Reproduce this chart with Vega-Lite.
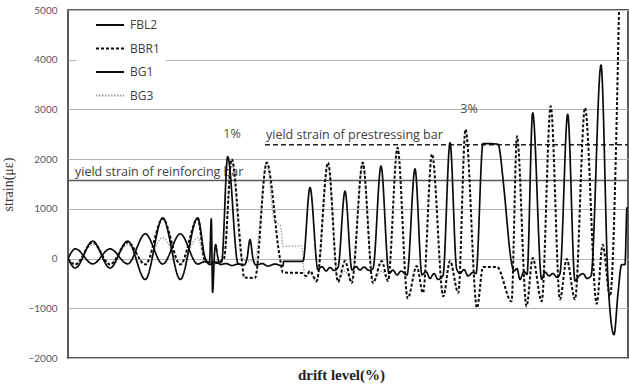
{
  "$schema": "https://vega.github.io/schema/vega-lite/v6.json",
  "width": 560,
  "height": 348,
  "autosize": {"type": "none"},
  "padding": {"left": 68, "top": 10, "right": 1, "bottom": 27},
  "background": "white",
  "config": {
    "view": {"stroke": "#5a5a5a", "strokeWidth": 2},
    "legend": {
      "orient": "none", "legendX": 8, "legendY": 3, "fillColor": "white", "padding": 6,
      "symbolType": "stroke", "symbolSize": 784, "symbolStrokeWidth": 2,
      "labelFont": "Open Sans", "labelFontSize": 12, "labelColor": "#404040",
      "clipHeight": 12, "rowPadding": 11.5, "symbolOffset": 13, "labelOffset": 5
    }
  },
  "datasets": {
    "series": [
      {"s":"FBL2","t":0,"v":0},{"s":"FBL2","t":7.3,"v":195},{"s":"FBL2","t":24.7,"v":-107},{"s":"FBL2","t":42,"v":195},{"s":"FBL2","t":59.7,"v":-107},
      {"s":"FBL2","t":77.3,"v":497},{"s":"FBL2","t":94.7,"v":-110},{"s":"FBL2","t":112.3,"v":497},{"s":"FBL2","t":129.7,"v":-110},{"s":"FBL2","t":137,"v":-60},
      {"s":"FBL2","t":141.5,"v":-80},{"s":"FBL2","t":143.3,"v":800},{"s":"FBL2","t":144.6,"v":-680},{"s":"FBL2","t":146.5,"v":100},{"s":"FBL2","t":147.7,"v":280},
      {"s":"FBL2","t":149.5,"v":60},{"s":"FBL2","t":152,"v":-120},{"s":"FBL2","t":158,"v":-100},{"s":"FBL2","t":164,"v":-140},{"s":"FBL2","t":170,"v":-110},
      {"s":"FBL2","t":176,"v":-130},{"s":"FBL2","t":179,"v":0},{"s":"FBL2","t":182,"v":380},{"s":"FBL2","t":185,"v":0},{"s":"FBL2","t":188,"v":-130},
      {"s":"FBL2","t":194,"v":-100},{"s":"FBL2","t":200,"v":-150},{"s":"FBL2","t":207,"v":-110},{"s":"FBL2","t":215,"v":-150},{"s":"FBL2","t":215.6,"v":-55},
      {"s":"FBL2","t":235,"v":-55},{"s":"FBL2","t":242,"v":1430},{"s":"FBL2","t":250,"v":-220},{"s":"FBL2","t":254,"v":-160},{"s":"FBL2","t":258,"v":-250},
      {"s":"FBL2","t":262,"v":-180},{"s":"FBL2","t":266,"v":-240},{"s":"FBL2","t":270,"v":-180},{"s":"FBL2","t":277,"v":1355},{"s":"FBL2","t":284,"v":-230},
      {"s":"FBL2","t":288,"v":-160},{"s":"FBL2","t":292,"v":-230},{"s":"FBL2","t":296,"v":-170},{"s":"FBL2","t":301,"v":-240},{"s":"FBL2","t":305,"v":-200},
      {"s":"FBL2","t":313,"v":1860},{"s":"FBL2","t":321,"v":-300},{"s":"FBL2","t":325,"v":-230},{"s":"FBL2","t":329,"v":-330},{"s":"FBL2","t":333,"v":-250},
      {"s":"FBL2","t":339,"v":-330},{"s":"FBL2","t":347,"v":1805},{"s":"FBL2","t":354,"v":-330},{"s":"FBL2","t":358,"v":-260},{"s":"FBL2","t":362,"v":-400},
      {"s":"FBL2","t":366,"v":-300},{"s":"FBL2","t":370,"v":-420},{"s":"FBL2","t":375,"v":-340},{"s":"FBL2","t":382,"v":2330},{"s":"FBL2","t":388.7,"v":-210},
      {"s":"FBL2","t":392,"v":-300},{"s":"FBL2","t":396,"v":-220},{"s":"FBL2","t":400,"v":-350},{"s":"FBL2","t":405,"v":-280},{"s":"FBL2","t":408,"v":-300},
      {"s":"FBL2","t":415,"v":2315},{"s":"FBL2","t":430,"v":2300},{"s":"FBL2","t":435,"v":1600},{"s":"FBL2","t":437,"v":1190},{"s":"FBL2","t":443,"v":-20},
      {"s":"FBL2","t":446,"v":-250},{"s":"FBL2","t":449,"v":-200},{"s":"FBL2","t":452,"v":-420},{"s":"FBL2","t":456,"v":-260},{"s":"FBL2","t":459,"v":-320},
      {"s":"FBL2","t":464.7,"v":2930},{"s":"FBL2","t":473.7,"v":-420},{"s":"FBL2","t":477,"v":-270},{"s":"FBL2","t":481,"v":-350},{"s":"FBL2","t":485,"v":-300},
      {"s":"FBL2","t":489,"v":-380},{"s":"FBL2","t":492,"v":-300},{"s":"FBL2","t":499.7,"v":2900},{"s":"FBL2","t":507,"v":-450},{"s":"FBL2","t":511,"v":-350},
      {"s":"FBL2","t":515,"v":-300},{"s":"FBL2","t":519,"v":-400},{"s":"FBL2","t":523,"v":-350},{"s":"FBL2","t":533,"v":3890},{"s":"FBL2","t":540,"v":-450},
      {"s":"FBL2","t":546,"v":-1530},{"s":"FBL2","t":550,"v":-700},{"s":"FBL2","t":553.7,"v":-120},{"s":"FBL2","t":557,"v":-120},{"s":"FBL2","t":559,"v":1020},
      {"s":"FBL2","t":560,"v":1000},

      {"s":"BG1","t":0,"v":0},{"s":"BG1","t":7.3,"v":-190},{"s":"BG1","t":24.7,"v":350},{"s":"BG1","t":42,"v":-190},{"s":"BG1","t":59.7,"v":350},
      {"s":"BG1","t":77.3,"v":-420},{"s":"BG1","t":94.7,"v":820},{"s":"BG1","t":112.3,"v":-420},{"s":"BG1","t":129.7,"v":820},{"s":"BG1","t":137,"v":20},
      {"s":"BG1","t":142,"v":-120},{"s":"BG1","t":146,"v":-60},{"s":"BG1","t":150,"v":-90},{"s":"BG1","t":153.7,"v":-60},{"s":"BG1","t":159.7,"v":2050},
      {"s":"BG1","t":170,"v":-100},{"s":"BG1","t":173,"v":-120},

      {"s":"BBR1","t":0,"v":0},{"s":"BBR1","t":7.3,"v":-120},{"s":"BBR1","t":24.7,"v":330},{"s":"BBR1","t":42,"v":-120},{"s":"BBR1","t":59.7,"v":330},
      {"s":"BBR1","t":77.3,"v":-120},{"s":"BBR1","t":94.7,"v":800},{"s":"BBR1","t":112.3,"v":-120},{"s":"BBR1","t":129.7,"v":800},{"s":"BBR1","t":137,"v":-50},
      {"s":"BBR1","t":144,"v":-100},{"s":"BBR1","t":150,"v":-80},{"s":"BBR1","t":156,"v":0},{"s":"BBR1","t":163.7,"v":2000},{"s":"BBR1","t":173.7,"v":0},
      {"s":"BBR1","t":176,"v":-380},{"s":"BBR1","t":187,"v":-390},{"s":"BBR1","t":198.7,"v":1930},{"s":"BBR1","t":212,"v":0},{"s":"BBR1","t":215,"v":-280},
      {"s":"BBR1","t":234,"v":-290},{"s":"BBR1","t":238,"v":-350},{"s":"BBR1","t":242,"v":-250},{"s":"BBR1","t":248.7,"v":-450},{"s":"BBR1","t":260,"v":1930},
      {"s":"BBR1","t":270,"v":-470},{"s":"BBR1","t":277,"v":-50},{"s":"BBR1","t":283.7,"v":-490},{"s":"BBR1","t":294.7,"v":1930},{"s":"BBR1","t":305,"v":-490},
      {"s":"BBR1","t":313.7,"v":-50},{"s":"BBR1","t":320,"v":-450},{"s":"BBR1","t":329.5,"v":2230},{"s":"BBR1","t":339.7,"v":-800},{"s":"BBR1","t":348.7,"v":-150},
      {"s":"BBR1","t":355,"v":-690},{"s":"BBR1","t":364,"v":2100},{"s":"BBR1","t":375.3,"v":-760},{"s":"BBR1","t":382,"v":-50},{"s":"BBR1","t":390.3,"v":-690},
      {"s":"BBR1","t":397.5,"v":2600},{"s":"BBR1","t":409,"v":-990},{"s":"BBR1","t":415,"v":-170},{"s":"BBR1","t":429,"v":-170},{"s":"BBR1","t":443.5,"v":-860},
      {"s":"BBR1","t":449,"v":2460},{"s":"BBR1","t":458.5,"v":-960},{"s":"BBR1","t":464.7,"v":10},{"s":"BBR1","t":473.7,"v":-860},{"s":"BBR1","t":482.7,"v":3065},
      {"s":"BBR1","t":492,"v":-820},{"s":"BBR1","t":498.7,"v":-10},{"s":"BBR1","t":507,"v":-820},{"s":"BBR1","t":517,"v":3030},{"s":"BBR1","t":528.7,"v":-910},
      {"s":"BBR1","t":534.7,"v":280},{"s":"BBR1","t":542,"v":-760},{"s":"BBR1","t":551,"v":5000},

      {"s":"BG3","t":0,"v":0},{"s":"BG3","t":7.3,"v":-100},{"s":"BG3","t":24.7,"v":280},{"s":"BG3","t":42,"v":-100},{"s":"BG3","t":59.7,"v":280},
      {"s":"BG3","t":77.3,"v":-100},{"s":"BG3","t":94.7,"v":420},{"s":"BG3","t":112.3,"v":-100},{"s":"BG3","t":129.7,"v":420},{"s":"BG3","t":137,"v":-30},
      {"s":"BG3","t":144,"v":-60},{"s":"BG3","t":156,"v":0},{"s":"BG3","t":163.7,"v":1950},{"s":"BG3","t":173.7,"v":0},{"s":"BG3","t":182,"v":-50},
      {"s":"BG3","t":187,"v":-20},{"s":"BG3","t":198.7,"v":1930},{"s":"BG3","t":206,"v":800},{"s":"BG3","t":208.7,"v":720},{"s":"BG3","t":212.5,"v":660},
      {"s":"BG3","t":215,"v":250},{"s":"BG3","t":233.7,"v":250},{"s":"BG3","t":237,"v":-400},{"s":"BG3","t":242,"v":-300},{"s":"BG3","t":248.7,"v":-480},
      {"s":"BG3","t":260,"v":1900},{"s":"BG3","t":270,"v":-420},{"s":"BG3","t":277,"v":-250},{"s":"BG3","t":283.7,"v":-450},{"s":"BG3","t":294.7,"v":1900},
      {"s":"BG3","t":305,"v":-450},{"s":"BG3","t":313.7,"v":-250},{"s":"BG3","t":317,"v":-350}
    ],
    "reinf": [{"t": 0, "t2": 560, "v": 1570}],
    "prest": [{"t": 197, "t2": 560, "v": 2290}],
    "notesL": [
      {"t": 7, "v": 1750, "label": "yield strain of reinforcing bar"},
      {"t": 198, "v": 2495, "label": "yield strain of prestressing bar"}
    ],
    "notesC": [
      {"t": 164, "v": 2515, "label": "1%"},
      {"t": 401, "v": 3000, "label": "3%"}
    ]
  },
  "encoding": {
    "x": {
      "field": "t", "type": "quantitative",
      "scale": {"domain": [0, 560], "nice": false, "zero": false},
      "axis": {
        "title": "drift level(%)", "labels": false, "ticks": false, "grid": false, "domain": false,
        "titleFont": "Liberation Serif", "titleFontSize": 15, "titleFontWeight": "bold", "titleColor": "#222",
        "titlePadding": 9, "titleX": 273, "titleAlign": "center"
      }
    },
    "y": {
      "field": "v", "type": "quantitative",
      "scale": {"domain": [-2000, 5000], "nice": false, "zero": false},
      "axis": {
        "title": "strain(με)", "values": [-2000, -1000, 0, 1000, 2000, 3000, 4000, 5000], "format": "d",
        "grid": true, "gridColor": "#b4b4b4", "gridWidth": 1, "ticks": false, "domain": false,
        "labelFont": "Lato", "labelFontSize": 10, "labelColor": "#595959", "labelPadding": 11,
        "titleFont": "Liberation Serif", "titleFontSize": 14, "titleFontWeight": "normal", "titleColor": "#333",
        "titlePadding": 12
      }
    },
    "color": {"field": "s", "type": "nominal", "title": null,
      "scale": {"domain": ["FBL2", "BBR1", "BG1", "BG3"], "range": ["#0a0a0a", "#0a0a0a", "#0a0a0a", "#9a9a9a"]}},
    "strokeDash": {"field": "s", "type": "nominal", "title": null,
      "scale": {"domain": ["FBL2", "BBR1", "BG1", "BG3"], "range": [[1, 0], [3, 2], [1, 0], [1.5, 1.5]]}}
  },
  "layer": [
    {
      "data": {"name": "reinf"},
      "mark": {"type": "rule", "color": "#595959", "strokeWidth": 1.6},
      "encoding": {"x2": {"field": "t2"}, "color": {"value": "#595959"}, "strokeDash": {"value": [1, 0]}}
    },
    {
      "data": {"name": "prest"},
      "mark": {"type": "rule", "strokeWidth": 1.5},
      "encoding": {"x2": {"field": "t2"}, "color": {"value": "#222222"}, "strokeDash": {"value": [5, 3]}}
    },
    {
      "data": {"name": "notesL"},
      "mark": {"type": "text", "align": "left", "baseline": "middle", "font": "Open Sans", "fontSize": 12.5},
      "encoding": {"text": {"field": "label"}, "color": {"value": "#404040"}, "strokeDash": {"value": null}}
    },
    {
      "data": {"name": "notesC"},
      "mark": {"type": "text", "align": "center", "baseline": "middle", "font": "Open Sans", "fontSize": 12.5},
      "encoding": {"text": {"field": "label"}, "color": {"value": "#505050"}, "strokeDash": {"value": null}}
    },
    {
      "data": {"name": "series"},
      "transform": [{"filter": "datum.s === 'BG3'"}],
      "mark": {"type": "line", "interpolate": "monotone", "strokeWidth": 1.3, "clip": true}
    },
    {
      "data": {"name": "series"},
      "transform": [{"filter": "datum.s === 'BBR1'"}],
      "mark": {"type": "line", "interpolate": "monotone", "strokeWidth": 2, "clip": true}
    },
    {
      "data": {"name": "series"},
      "transform": [{"filter": "datum.s === 'FBL2' || datum.s === 'BG1'"}],
      "mark": {"type": "line", "interpolate": "monotone", "strokeWidth": 1.7, "clip": true}
    }
  ]
}
